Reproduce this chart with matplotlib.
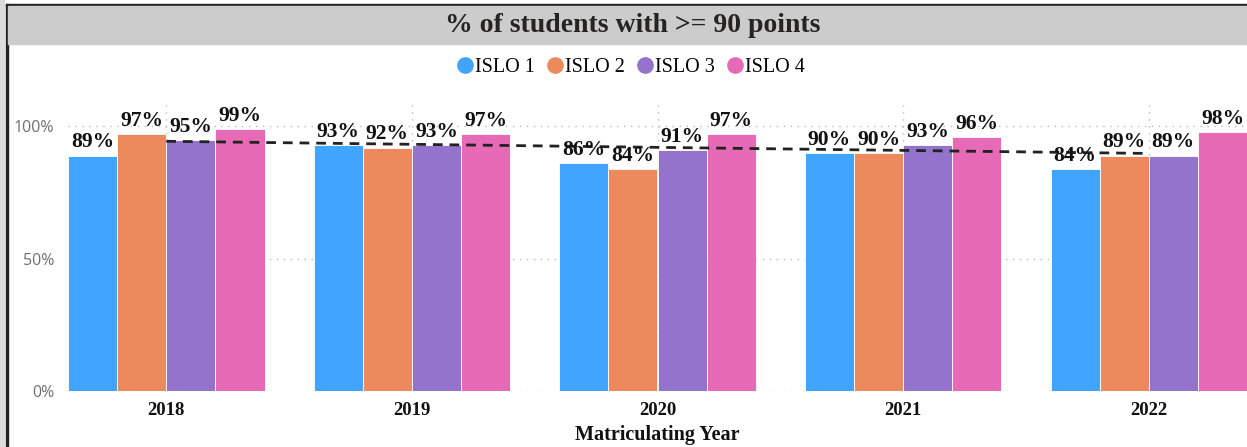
import numpy as np
import matplotlib
matplotlib.use("Agg")
import matplotlib.pyplot as plt
from matplotlib.patches import Rectangle
from matplotlib.lines import Line2D

years = ["2018", "2019", "2020", "2021", "2022"]
series_names = ["ISLO 1", "ISLO 2", "ISLO 3", "ISLO 4"]
islo1 = [89, 93, 86, 90, 84]
islo2 = [97, 92, 84, 90, 89]
islo3 = [95, 93, 91, 93, 89]
islo4 = [99, 97, 97, 96, 98]
colors = ["#41A4FF", "#EC8A5E", "#9373CC", "#E66AB6"]
yticks = [0, 50, 100]
ytick_labels = ["0%", "50%", "100%"]

W, H = 1247, 447
fig = plt.figure(figsize=(W / 100, H / 100), dpi=100)

serif = ["Liberation Serif", "DejaVu Serif"]

# frame decorations
fig.patches.append(Rectangle((0, 0), 4 / W, 1, transform=fig.transFigure, color="#dcdcdc", zorder=0))
fig.patches.append(Rectangle((6 / W, 0), 2 / W, 1 - 4 / H, transform=fig.transFigure, color="#222222", zorder=1))
fig.patches.append(Rectangle((6 / W, 1 - 6 / H), 1 - 6 / W, 2 / H, transform=fig.transFigure, color="#222222", zorder=1))
fig.patches.append(Rectangle((8 / W, 1 - 44 / H), 1 - 8 / W, 38 / H, transform=fig.transFigure, color="#cccccc", zorder=1))
fig.text(633 / W, 1 - 25 / H, "% of students with >= 90 points", ha="center", va="center",
         fontsize=20, fontweight="bold", family=serif, color="#252423")

ax = fig.add_axes([68 / W, (H - 391) / H, 1 - 68 / W, (391 - 100) / H])
data = [islo1, islo2, islo3, islo4]
x = np.arange(len(years))
bw = 0.2
for i, (vals, c, name) in enumerate(zip(data, colors, series_names)):
    pos = x - 0.3 + i * bw
    ax.bar(pos, vals, width=bw, color=c, edgecolor="white", linewidth=0.6, zorder=2, label=name)
    for p, v in zip(pos, vals):
        ax.text(p, v + 1.2, f"{v}%", ha="center", va="bottom", fontsize=15.5,
                fontweight="bold", family=serif, color="#111111", zorder=5)

# trend line on per-year average
avg = np.mean(np.array(data), axis=0)
m, b = np.polyfit(x, avg, 1)
ax.plot(x, m * x + b, linestyle=(0, (3.5, 2.5)), color="#222222", linewidth=2, zorder=4)

ax.set_xlim(-0.4, 4.4)
ax.set_ylim(0, 110)
ax.set_yticks(yticks)
ax.set_yticklabels(ytick_labels, fontsize=11.5, color="#707070", family=["Open Sans", "DejaVu Sans"])
ax.set_xticks(x)
ax.set_xticklabels(years, fontsize=13.5, fontweight="bold", family=serif, color="#111111")
ax.tick_params(length=0, pad=8)
ax.tick_params(axis="y", pad=10)
ax.set_xlabel("Matriculating Year", fontsize=14.5, fontweight="bold", family=serif, color="#111111", labelpad=4)
for s in ax.spines.values():
    s.set_visible(False)
ax.grid(True, axis="both", linestyle=(0, (1, 4)), color="#bbbbbb", linewidth=1, zorder=0)
ax.set_axisbelow(True)

handles = [Line2D([0], [0], marker="o", linestyle="", markersize=11, markerfacecolor=c,
                  markeredgecolor=c) for c in colors]
fig.legend(handles, series_names, loc="center", bbox_to_anchor=(630 / W, 1 - 67 / H), ncol=4,
           frameon=False, prop={"family": serif, "size": 14.5}, handletextpad=0.0,
           columnspacing=0.5, handlelength=1.0)

fig.savefig("out.png", dpi=100)
